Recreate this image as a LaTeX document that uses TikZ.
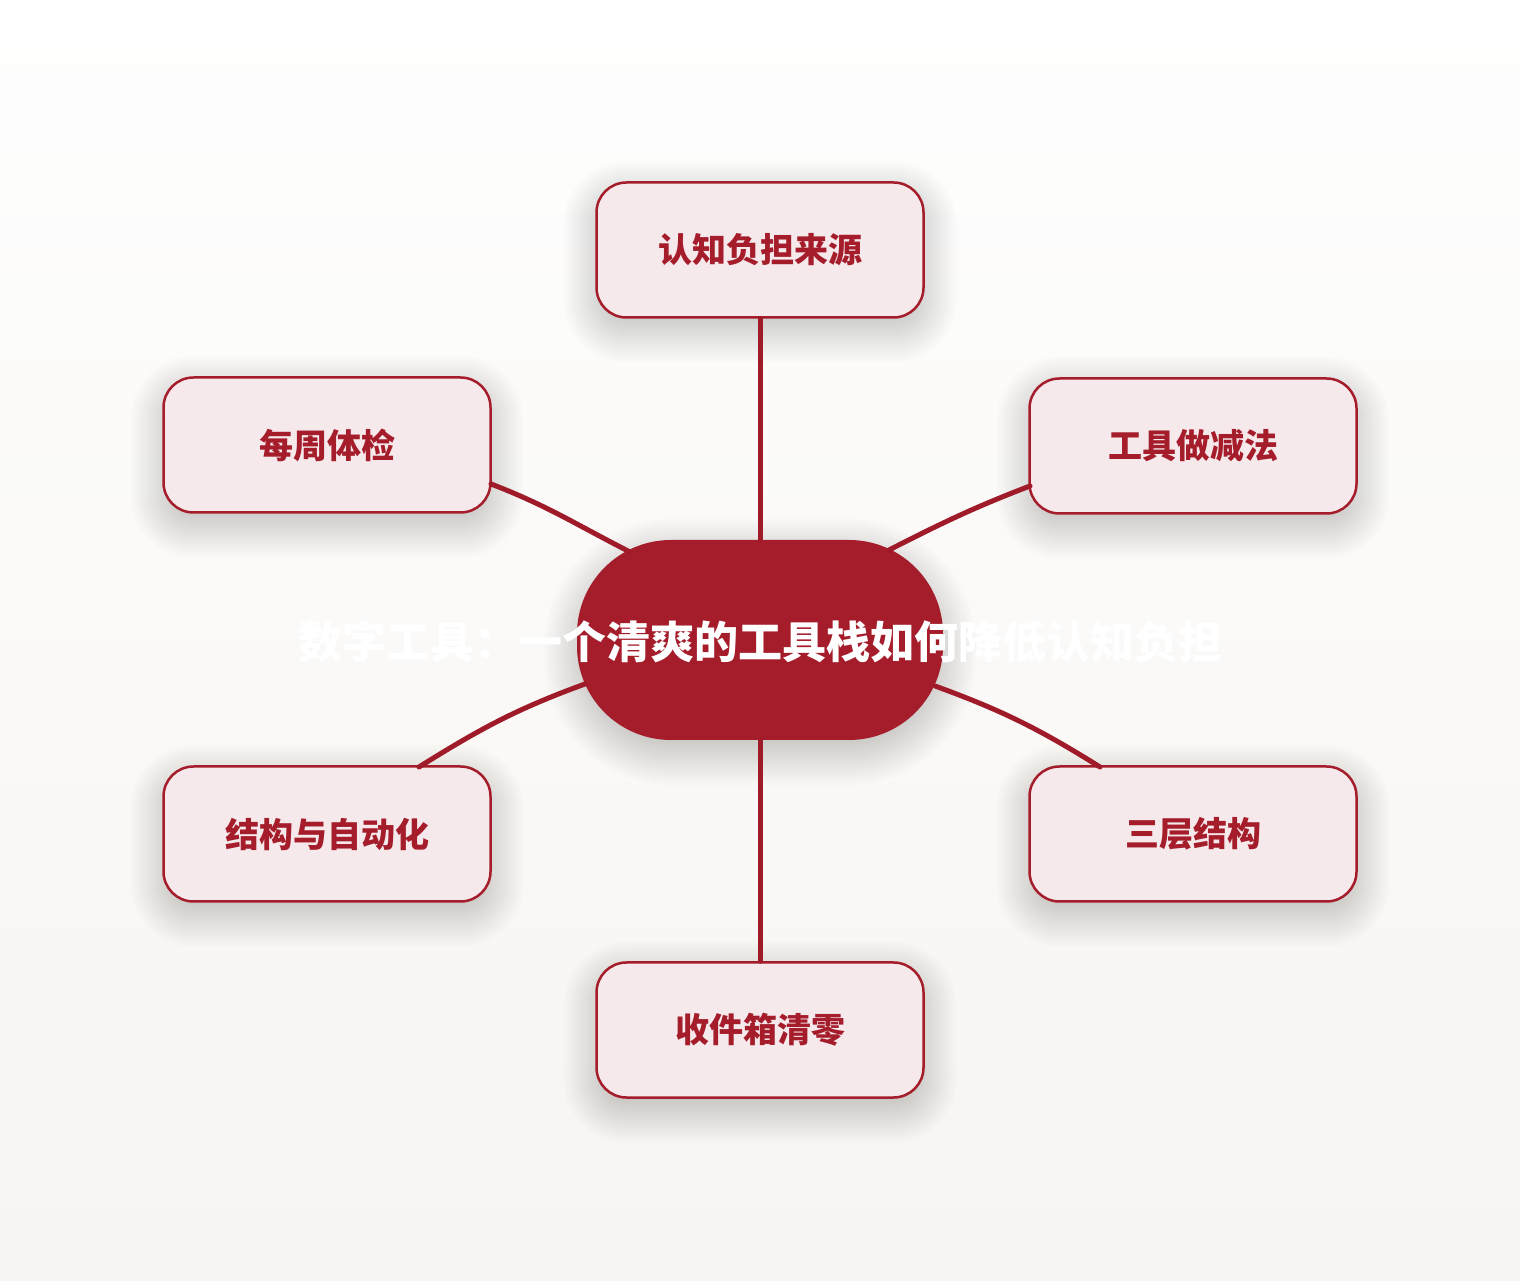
\documentclass[tikz,border=0pt]{standalone}
\usepackage{fontspec}
\newfontfamily\cjk{Noto Sans CJK SC}
\usetikzlibrary{calc}
\definecolor{mainred}{HTML}{A51C2A}
\definecolor{linered}{HTML}{A01B29}
\definecolor{nodefill}{HTML}{F5E9EC}
\definecolor{bgtop}{HTML}{FEFEFE}
\definecolor{bgbot}{HTML}{F7F5F1}
\tikzset{
  px/.style={x=0.5pt,y=0.5pt},
  leaf/.style={draw=mainred, line width=1.25pt, fill=nodefill, rounded corners=15pt,
    minimum width=163.5pt, minimum height=67.5pt, inner sep=0pt,
    font=\cjk\bfseries\fontsize{17pt}{20pt}\selectfont, text=mainred},
  hub/.style={fill=mainred, rounded corners=47pt, minimum width=183pt, minimum height=100pt,
    inner sep=0pt},
  title/.style={font=\cjk\bfseries\fontsize{22pt}{26pt}\selectfont, text=white, inner sep=0pt},
  link/.style={draw=linered, line width=2.5pt, line cap=round},
  shadowlayer/.style={fill=black, opacity=0.012}
}
% soft shadow: x y w h r (picture units)
\newcommand\softshadow[5]{%
  \foreach \k in {0,...,15}{%
    \pgfmathsetmacro\d{-12+3*\k}%
    \pgfmathsetmacro\rr{0.5*min(#5+\d,(#4+2*\d)/2-1)}%
    \fill[shadowlayer, rounded corners=\rr pt]
      ({#1-#3/2-\d},{#2-#4/2-\d-12}) rectangle ({#1+#3/2+\d},{#2+#4/2+\d-12});
  }}
\begin{document}
\begin{tikzpicture}[px]
\useasboundingbox (0,0) rectangle (1520,1280);
\shade[top color=bgtop, bottom color=bgbot] (0,0) rectangle (1520,1280);
% shadows
\softshadow{760}{1030}{327}{135}{30}
\softshadow{327}{835}{327}{135}{30}
\softshadow{1193}{834}{327}{135}{30}
\softshadow{327}{446}{327}{135}{30}
\softshadow{1193}{446}{327}{135}{30}
\softshadow{760}{250}{327}{135}{30}
\softshadow{760}{640}{366}{200}{95}
% nodes
\node[hub] (c) at (760,640) {};
\node[leaf] (top) at (760,1030) {认知负担来源};
\node[leaf] (ul) at (327,835) {每周体检};
\node[leaf] (ur) at (1193,834) {工具做减法};
\node[leaf] (ll) at (327,446) {结构与自动化};
\node[leaf] (lr) at (1193,446) {三层结构};
\node[leaf] (bot) at (760,250) {收件箱清零};
\node[title] (t) at (760,638) {数字工具：一个清爽的工具栈如何降低认知负担};
% connectors
\draw[link] (top.south) -- (c.north);
\draw[link] (c.south) -- (bot.north);
\draw[link] ($(c.center)+(129,90)$) to[out=27,in=-159] ($(ur.center)+(-163,-40)$);
\draw[link] ($(c.center)+(-130,88)$) to[out=153,in=-21] ($(ul.center)+(164,-39)$);
\draw[link] ($(c.center)+(-175,-44)$) to[out=-160,in=32] ($(ll.center)+(92,67)$);
\draw[link] ($(c.center)+(175,-46)$) to[out=-20,in=148] ($(lr.center)+(-93,67)$);
\end{tikzpicture}
\end{document}
